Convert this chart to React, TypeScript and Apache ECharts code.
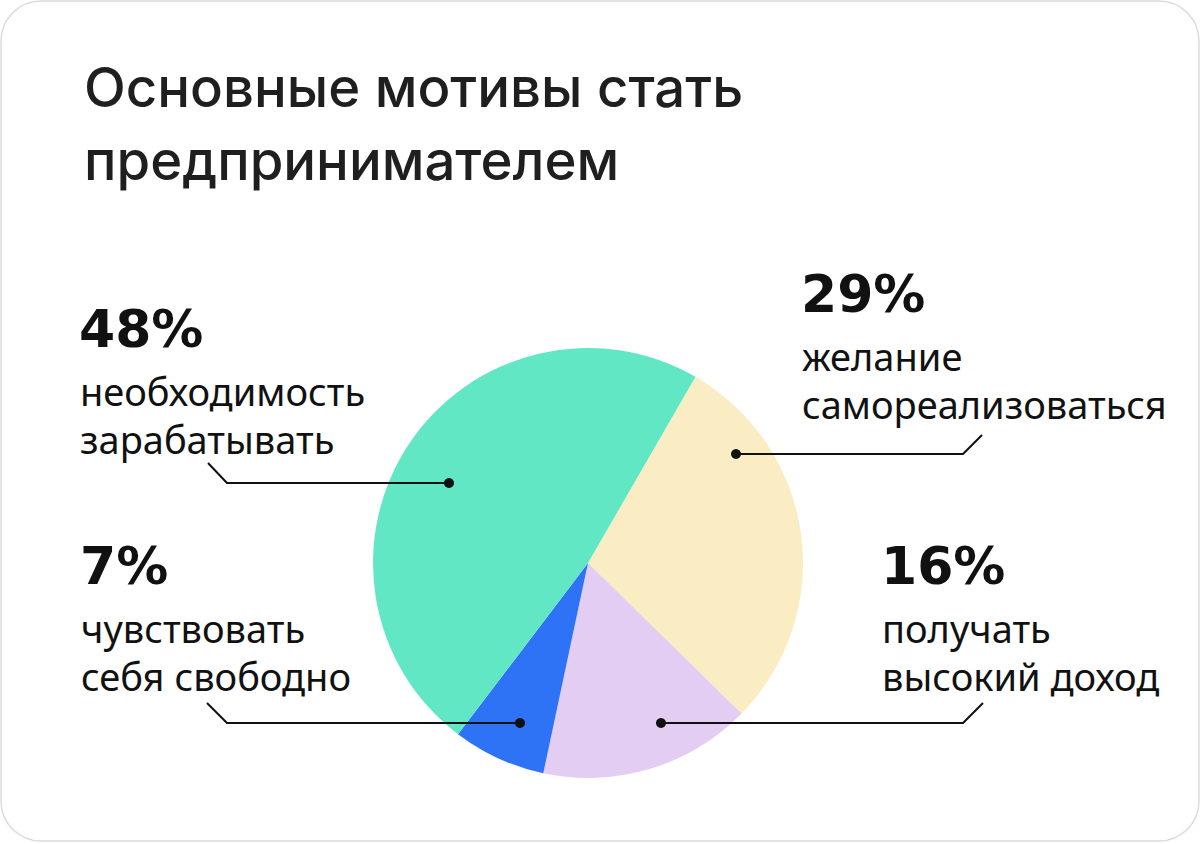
import React, { useEffect, useRef } from "react";
import * as echarts from "echarts";

const titleLines = ["Основные мотивы стать", "предпринимателем"];
const categories = [
  "желание самореализоваться",
  "получать высокий доход",
  "чувствовать себя свободно",
  "необходимость зарабатывать",
];
const labelLines = [
  ["желание", "самореализоваться"],
  ["получать", "высокий доход"],
  ["чувствовать", "себя свободно"],
  ["необходимость", "зарабатывать"],
];
const values = [29, 16, 7, 48];
const colors = ["#FBEDC3", "#E4CDF3", "#2E72F6", "#62E7C5"];

// label layout: text left x, percentage baseline y, leader polyline (starts at the dot)
const layout = [
  { x: 801, base: 312, line: [[736, 454], [963, 454], [982, 435]] },
  { x: 881, base: 584, line: [[661, 723], [963, 723], [983, 703]] },
  { x: 80, base: 584, line: [[520, 723], [227, 723], [207, 703]] },
  { x: 79, base: 347, line: [[449, 483], [227, 483], [208, 463]] },
];

const PCT_F = 52;
const LBL_F = 38;
const TITLE_F = 54.5;

export default function App() {
  const ref = useRef<HTMLDivElement>(null);
  useEffect(() => {
    if (!ref.current) return;
    const chart = echarts.init(ref.current, null, { renderer: "svg" });
    const graphics: any[] = [
      {
        type: "rect",
        z: -10,
        shape: { x: 1, y: 1, width: 1198, height: 840, r: 40 },
        style: { fill: "#ffffff", stroke: "#dcdcdc", lineWidth: 1.5 },
      },
    ];
    titleLines.forEach((t, i) => {
      graphics.push({
        type: "text",
        style: {
          text: t,
          x: 84,
          y: [107, 180][i] - TITLE_F * 0.36,
          fill: "#1f1f1f",
          font: `500 ${TITLE_F}px Inter`,
          textAlign: "left",
          textVerticalAlign: "middle",
        },
      });
    });
    values.forEach((v, i) => {
      const L = layout[i];
      graphics.push({
        type: "text",
        style: {
          text: `${v}%`,
          x: L.x,
          y: L.base - PCT_F * 0.35,
          fill: "#111111",
          font: `bold ${PCT_F}px "DejaVu Sans"`,
          textAlign: "left",
          textVerticalAlign: "middle",
        },
      });
      labelLines[i].forEach((t, j) => {
        graphics.push({
          type: "text",
          style: {
            text: t,
            x: L.x + 1,
            y: L.base + 58 + j * 48 - LBL_F * 0.38,
            fill: "#111111",
            font: `400 ${LBL_F}px "Noto Sans"`,
            textAlign: "left",
            textVerticalAlign: "middle",
          },
        });
      });
      graphics.push({
        type: "polyline",
        z: 10,
        shape: { points: L.line },
        style: { stroke: "#111111", lineWidth: 2, fill: null, lineJoin: "round" },
      });
      graphics.push({
        type: "circle",
        z: 11,
        shape: { cx: L.line[0][0], cy: L.line[0][1], r: 5 },
        style: { fill: "#111111" },
      });
    });

    chart.setOption({
      animation: false,
      backgroundColor: "transparent",
      graphic: graphics,
      series: [
        {
          type: "pie",
          z: 2,
          center: [588, 563],
          radius: 215,
          startAngle: 60,
          clockwise: true,
          label: { show: false },
          labelLine: { show: false },
          emphasis: { disabled: true },
          itemStyle: { borderWidth: 0 },
          data: categories.map((c, i) => ({
            name: c,
            value: values[i],
            itemStyle: { color: colors[i] },
          })),
        },
      ],
    });
    return () => chart.dispose();
  }, []);
  return (
    <div
      ref={ref}
      style={{ position: "absolute", left: 0, top: 0, width: 1200, height: 844 }}
    />
  );
}
